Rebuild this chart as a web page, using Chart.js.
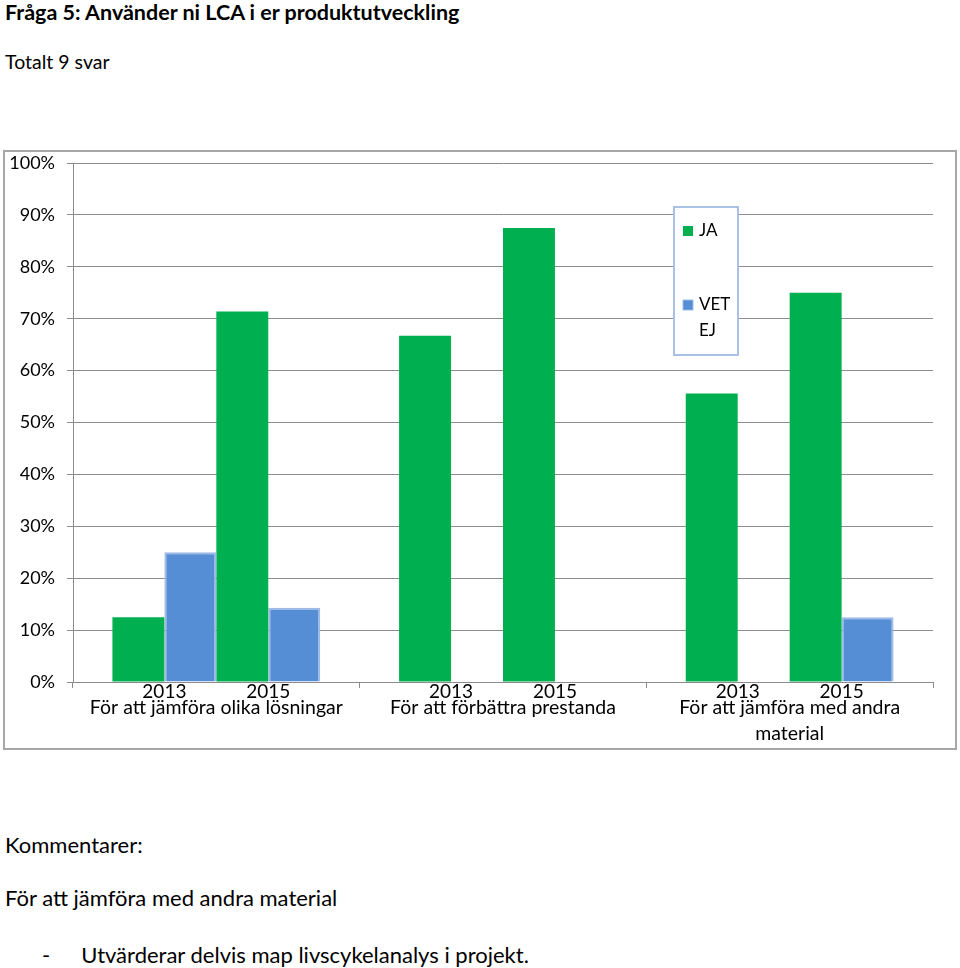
<!DOCTYPE html>
<html>
<head>
<meta charset="utf-8">
<script src="https://cdn.jsdelivr.net/npm/chart.js@4.4.1/dist/chart.umd.min.js"></script>
<style>
    body { margin: 0; background: #fff; font-family: Lato, "Open Sans", sans-serif; color: #000; }
    .txt { position: absolute; left: 5px; white-space: nowrap; line-height: 1; }
    #title { top: 2px; font-size: 21.5px; font-weight: bold; }
    #total { top: 52px; font-size: 19.5px; }
    #box { position: absolute; left: 3px; top: 150px; width: 954px; height: 600px;
           border: 2px solid #a6a6a6; box-sizing: border-box; }
    #comments { top: 834px; font-size: 22px; }
    #c1 { top: 887px; font-size: 22px; }
    #c2 { top: 944px; font-size: 22px; }
</style>
</head>
<body>
<div class="txt" id="title">Fråga 5: Använder ni LCA i er produktutveckling</div>
<div class="txt" id="total">Totalt 9 svar</div>
<div id="box"><canvas id="chart"></canvas></div>
<div class="txt" id="comments">Kommentarer:</div>
<div class="txt" id="c1">För att jämföra med andra material</div>
<div class="txt" id="c2"><span style="margin-left:37px">-</span><span style="margin-left:31px">Utvärderar delvis map livscykelanalys i projekt.</span></div>

<script>
// Data (percent)
const categories = [
    'För att jämföra olika lösningar',
    'För att förbättra prestanda',
    ['För att jämföra med andra', 'material']
];
const years = ['2013', '2015'];
const ja2013 = [12.5, 66.7, 55.6];
const vet2013 = [25.0, 0, 0];
const ja2015 = [71.4, 87.5, 75.0];
const vet2015 = [14.3, 0, 12.5];
const yTicks = [0, 10, 20, 30, 40, 50, 60, 70, 80, 90, 100];

const GREEN = '#00b050';
const BLUE = '#558ed5';
const BLUE_EDGE = '#9dbbe6';
const GRID = '#8c8c8c';
const FONT = 'Lato, "Open Sans", sans-serif';

// Year labels under each pair of bars
const yearLabels = {
    id: 'yearLabels',
    afterDraw(chart) {
        const ctx = chart.ctx;
        ctx.save();
        ctx.font = '19px ' + FONT;
        ctx.fillStyle = '#000';
        ctx.textAlign = 'center';
        ctx.textBaseline = 'middle';
        const y = chart.chartArea.bottom + 10;
        [[0, 1], [2, 3]].forEach((pair, yi) => {
            const a = chart.getDatasetMeta(pair[0]).data;
            const b = chart.getDatasetMeta(pair[1]).data;
            a.forEach((bar, i) => {
                const x = (bar.x + b[i].x) / 2;
                ctx.fillText(years[yi], x, y);
            });
        });
        ctx.restore();
    }
};

// Narrow legend box with wrapped text
const boxLegend = {
    id: 'boxLegend',
    afterDraw(chart) {
        const ctx = chart.ctx;
        const x = 669, y = 55, w = 64, h = 148;
        ctx.save();
        ctx.fillStyle = '#fff';
        ctx.fillRect(x, y, w, h);
        ctx.strokeStyle = '#a9c1e4';
        ctx.lineWidth = 2;
        ctx.strokeRect(x, y, w, h);
        ctx.font = '17px ' + FONT;
        ctx.textBaseline = 'middle';
        const items = chart.data.datasets.slice(0, 2);
        const rows = [24, 98];
        items.forEach((ds, k) => {
            const ry = y + rows[k];
            ctx.fillStyle = ds.backgroundColor;
            ctx.fillRect(x + 9, ry - 5, 10, 10);
            if (ds.borderColor) {
                ctx.strokeStyle = BLUE_EDGE;
                ctx.lineWidth = 1;
                ctx.strokeRect(x + 9, ry - 5, 10, 10);
            }
            ctx.fillStyle = '#000';
            const words = ds.label.split(' ');
            let line = '', ly = ry;
            words.forEach(wd => {
                const test = line ? line + ' ' + wd : wd;
                if (line && ctx.measureText(test).width > w - 30) {
                    ctx.fillText(line, x + 25, ly);
                    line = wd;
                    ly += 26;
                } else {
                    line = test;
                }
            });
            ctx.fillText(line, x + 25, ly);
        });
        ctx.restore();
    }
};

const edge = c => (c.raw ? 2 : 0);

new Chart(document.getElementById('chart'), {
    type: 'bar',
    data: {
        labels: categories,
        datasets: [
            { label: 'JA', data: ja2013, backgroundColor: GREEN, borderWidth: 0 },
            { label: 'VET EJ', data: vet2013, backgroundColor: BLUE, borderColor: BLUE_EDGE, borderWidth: edge },
            { label: 'JA', data: ja2015, backgroundColor: GREEN, borderWidth: 0 },
            { label: 'VET EJ', data: vet2015, backgroundColor: BLUE, borderColor: BLUE_EDGE, borderWidth: edge }
        ]
    },
    options: {
        responsive: true,
        maintainAspectRatio: false,
        animation: false,
        layout: { padding: { left: 0, top: 11, right: 22, bottom: 0 } },
        datasets: {
            bar: { categoryPercentage: 0.725, barPercentage: 1.0, borderSkipped: 'start' }
        },
        plugins: {
            legend: { display: false },
            tooltip: { enabled: false }
        },
        scales: {
            x: {
                afterFit: s => { s.height = 66; s.paddingLeft = 0; s.paddingRight = 0; },
                grid: { offset: true, drawOnChartArea: false, color: GRID, tickLength: 6 },
                border: { color: GRID },
                ticks: {
                    color: '#000',
                    padding: 7,
                    maxRotation: 0,
                    autoSkip: false,
                    font: { family: FONT, size: 19.5, lineHeight: 1.33 }
                }
            },
            y: {
                min: 0,
                max: 100,
                afterFit: s => { s.width = 68; s.paddingTop = 0; s.paddingBottom = 0; },
                afterBuildTicks: s => { s.ticks = yTicks.map(v => ({ value: v })); },
                grid: { color: GRID, tickLength: 6 },
                border: { color: GRID },
                ticks: {
                    color: '#000',
                    padding: 12,
                    font: { family: FONT, size: 18 },
                    callback: v => v + '%'
                }
            }
        }
    },
    plugins: [yearLabels, boxLegend]
});
</script>
</body>
</html>
